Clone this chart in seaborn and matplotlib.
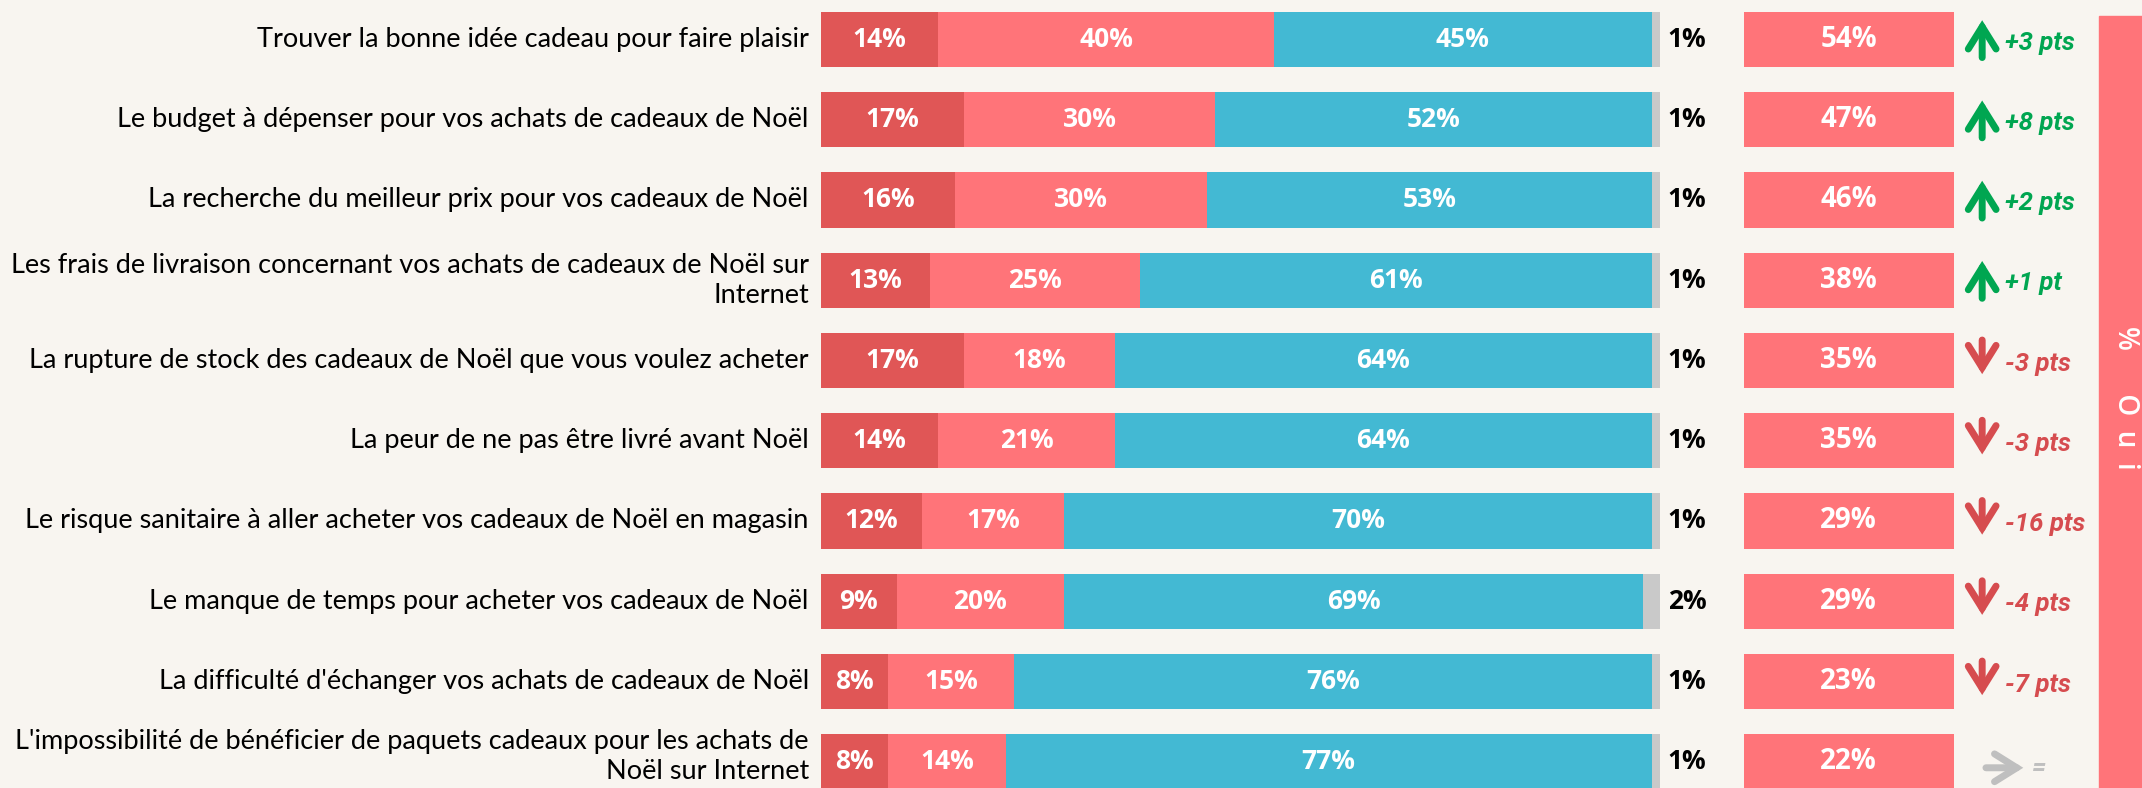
import matplotlib
matplotlib.use("Agg")
import matplotlib.pyplot as plt
import pandas as pd
import seaborn as sns

items = [
    "Trouver la bonne idée cadeau pour faire plaisir",
    "Le budget à dépenser pour vos achats de cadeaux de Noël",
    "La recherche du meilleur prix pour vos cadeaux de Noël",
    "Les frais de livraison concernant vos achats de cadeaux de Noël sur\nInternet",
    "La rupture de stock des cadeaux de Noël que vous voulez acheter",
    "La peur de ne pas être livré avant Noël",
    "Le risque sanitaire à aller acheter vos cadeaux de Noël en magasin",
    "Le manque de temps pour acheter vos cadeaux de Noël",
    "La difficulté d'échanger vos achats de cadeaux de Noël",
    "L'impossibilité de bénéficier de paquets cadeaux pour les achats de\nNoël sur Internet",
]
oui_beaucoup = [14, 17, 16, 13, 17, 14, 12, 9, 8, 8]
oui_plutot = [40, 30, 30, 25, 18, 21, 17, 20, 15, 14]
non = [45, 52, 53, 61, 64, 64, 70, 69, 76, 77]
nsp = [1, 1, 1, 1, 1, 1, 1, 2, 1, 1]
oui_total = [54, 47, 46, 38, 35, 35, 29, 29, 23, 22]
evolution = [3, 8, 2, 1, -3, -3, -16, -4, -7, 0]

BG = "#F8F5F0"
DARK = "#E05656"
PINK = "#FF7479"
BLUE = "#43B9D3"
GREY = "#C9C9C9"
GREEN = "#00A651"
RED = "#D64C4F"
ARROW_GREY = "#BFBFBF"

sns.set_theme(style="white")
plt.rcParams["font.family"] = ["Lato", "DejaVu Sans"]

df = pd.DataFrame({"item": items, "a": oui_beaucoup, "b": oui_plutot,
                   "c": non, "d": nsp})
df["cum_a"] = df["a"]
df["cum_b"] = df["cum_a"] + df["b"]
df["cum_c"] = df["cum_b"] + df["c"]
df["cum_d"] = df["cum_c"] + df["d"]

fig = plt.figure(figsize=(21.42, 7.88), dpi=100, facecolor=BG)
ax = fig.add_axes([821 / 2142, 0, (2099 - 821) / 2142, 1])
ax.set_facecolor(BG)

bw = 0.69
for col, colr in [("cum_d", GREY), ("cum_c", BLUE), ("cum_b", PINK), ("cum_a", DARK)]:
    sns.barplot(data=df, x=col, y="item", color=colr, saturation=1,
                width=bw, linewidth=0, errorbar=None, orient="h", ax=ax)

n = len(items)
for i in range(n):
    starts = [0, df.cum_a[i], df.cum_b[i]]
    vals = [df.a[i], df.b[i], df.c[i]]
    for s, v in zip(starts, vals):
        ax.text(s + v / 2, i, f"{v}%", ha="center", va="center", color="white",
                fontsize=19, fontweight="bold", family="Open Sans")
    ax.text(100.9, i, f"{nsp[i]}%", ha="left", va="center", color="black",
            fontsize=19, fontweight="bold", family="Open Sans")

# libellés des lignes (dernier remonté pour ne pas sortir du cadre)
ax.set_yticklabels([])
for i, lab in enumerate(items):
    dy = -0.07 if i == n - 1 else 0
    ax.text(-1.45, i + dy, lab, ha="right", va="center", color="black",
            fontsize=19.5, linespacing=1.25)

# boîtes "Oui"
ax.barh(range(n), width=25, left=110, height=bw, color=PINK, linewidth=0)
for i, v in enumerate(oui_total):
    ax.text(122.5, i, f"{v}%", ha="center", va="center", color="white",
            fontsize=20, fontweight="bold", family="Open Sans")


def arrow(x0, y0, x1, y1, colr):
    ax.annotate("", xy=(x1, y1), xytext=(x0, y0),
                arrowprops=dict(arrowstyle="->,head_length=16,head_width=10",
                                lw=5, color=colr, shrinkA=0, shrinkB=0,
                                mutation_scale=1, capstyle="round",
                                joinstyle="miter"))


# évolutions
for i, e in enumerate(evolution):
    if e > 0:
        arrow(138.4, i + 0.225, 138.4, i - 0.24, GREEN)
        lab = f"+{e} pt" if e == 1 else f"+{e} pts"
        ax.text(141.1, i + 0.04, lab, ha="left", va="center", color=GREEN,
                fontsize=18.5, fontweight="bold", style="italic", family="Roboto")
    elif e < 0:
        arrow(138.4, i - 0.255, 138.4, i + 0.17, RED)
        lab = f"{e} pt" if e == -1 else f"{e} pts"
        ax.text(141.1, i + 0.04, lab, ha="left", va="center", color=RED,
                fontsize=18.5, fontweight="bold", style="italic", family="Roboto")
    else:
        arrow(138.85, i + 0.075, 143.3, i + 0.075, ARROW_GREY)
        ax.text(144.3, i + 0.08, "=", ha="left", va="center", color=ARROW_GREY,
                fontsize=18.5, fontweight="bold", style="italic", family="Roboto")

ax.set_xlim(0, (2099 - 821) / 8.39)
ax.set_ylim(9.327, -0.492)
ax.set_xlabel("")
ax.set_ylabel("")
ax.set_xticks([])
ax.tick_params(axis="y", length=0)
sns.despine(ax=ax, left=True, bottom=True)

# bandeau vertical "% Oui"
fig.patches.append(plt.Rectangle((2099 / 2142, 0), 43 / 2142, 1 - 16 / 788,
                                 transform=fig.transFigure, color=PINK, zorder=0))
fig.text(2125 / 2142, 1 - 398 / 788, "%      O  u  i", rotation=-90, ha="center",
         va="center", color="white", fontsize=20, fontweight="semibold",
         family="Open Sans")

fig.savefig("out.png", dpi=100, facecolor=BG)
